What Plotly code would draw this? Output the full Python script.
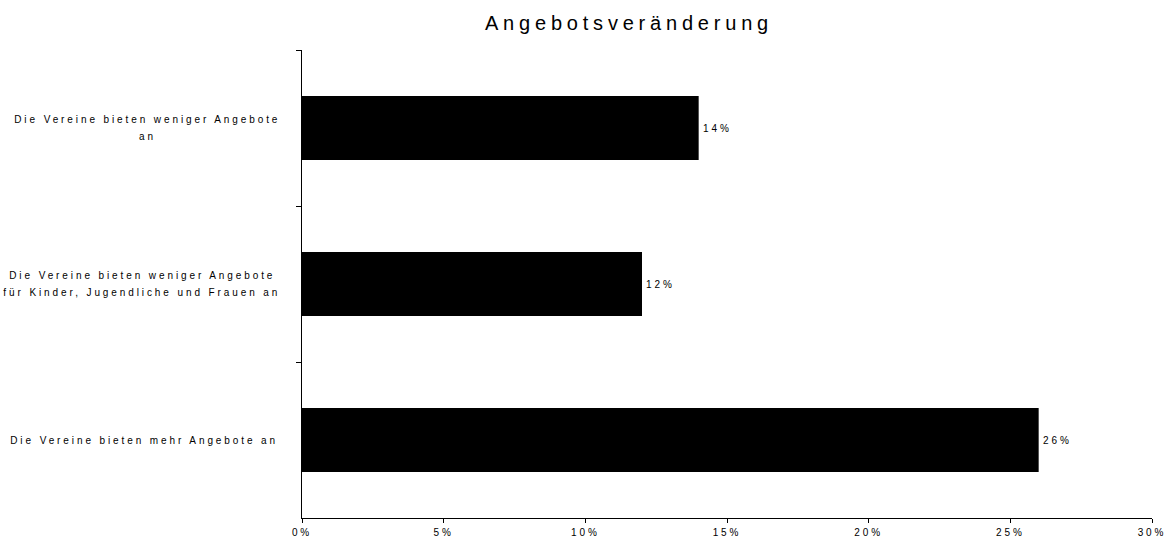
import plotly.graph_objects as go

# Daten (von oben nach unten wie im Original)
categories = [
    "Die Vereine bieten weniger Angebote<br>an",
    "Die Vereine bieten weniger Angebote<br>für Kinder, Jugendliche und Frauen an",
    "Die Vereine bieten mehr Angebote an",
]
shares = [0.14, 0.12, 0.26]
x_ticks = [0, 0.05, 0.10, 0.15, 0.20, 0.25, 0.30]
title_text = "Angebotsveränderung"

FONT = "Arial, 'Liberation Sans', sans-serif"
LEFT, RIGHT = 302, 1152          # Plotbereich in Pixeln
label_centers_px = [147, 142, 143.5]  # Mitte der Textblöcke links der Achse
line_gap = 16.4                       # Zeilenabstand der Kategorietexte

fig = go.Figure(
    go.Bar(
        x=shares,
        y=categories,
        orientation="h",
        marker=dict(color="black", line=dict(width=0)),
        hoverinfo="skip",
    )
)

# Kategorie-Beschriftungen: jede Zeile zentriert, eigener Zeilenabstand
for cat, cx in zip(categories, label_centers_px):
    lines = cat.split("<br>")
    n = len(lines)
    for i, line in enumerate(lines):
        fig.add_annotation(
            x=(cx - LEFT) / (RIGHT - LEFT), xref="paper", y=cat, yref="y",
            yshift=((n - 1) / 2 - i) * line_gap,
            text=line, showarrow=False,
            xanchor="center", yanchor="middle",
            font=dict(family=FONT, size=10, color="black"),
        )

# Prozentwerte rechts neben den Balken
for cat, v in zip(categories, shares):
    fig.add_annotation(
        x=v, xref="x", y=cat, yref="y", xshift=2,
        text=f"{v:.0%}", showarrow=False,
        xanchor="left", align="left", yanchor="middle",
        font=dict(family=FONT, size=10, color="black"),
    )

fig.update_layout(
    width=1172,
    height=539,
    margin=dict(l=LEFT, r=1172 - RIGHT, t=50, b=21, autoexpand=False),
    paper_bgcolor="white",
    plot_bgcolor="white",
    showlegend=False,
    bargap=0.59,
    font=dict(family=FONT, size=10, color="black"),
    title=dict(
        text=title_text,
        x=(629 - LEFT) / (RIGHT - LEFT), xref="paper", xanchor="center",
        y=1 - 22.5 / 539, yref="container", yanchor="middle",
        font=dict(family=FONT, size=20, color="black"),
    ),
    xaxis=dict(
        range=[0, 0.30],
        tickvals=x_ticks,
        tickformat=".0%",
        ticks="outside",
        ticklen=4,
        tickcolor="black",
        ticklabelstandoff=1,
        automargin=False,
        showline=True,
        linecolor="black",
        linewidth=1,
        showgrid=False,
        zeroline=False,
        tickfont=dict(family=FONT, size=10, color="black"),
    ),
    yaxis=dict(
        type="category",
        autorange="reversed",
        tickson="boundaries",
        ticks="outside",
        ticklen=5,
        tickcolor="black",
        automargin=False,
        showline=True,
        linecolor="black",
        linewidth=1,
        showgrid=False,
        zeroline=False,
        showticklabels=False,
    ),
)

# Sperrschrift wie im Original und Seitenrand entfernen
post_js = """
var st = document.createElement('style');
st.textContent = 'body { margin: 0; } svg text { letter-spacing: 2.9px; } svg text.gtitle { letter-spacing: 4.8px !important; }';
document.head.appendChild(st);
"""

fig.write_html("out.html", post_script=post_js, config={"displayModeBar": False})
